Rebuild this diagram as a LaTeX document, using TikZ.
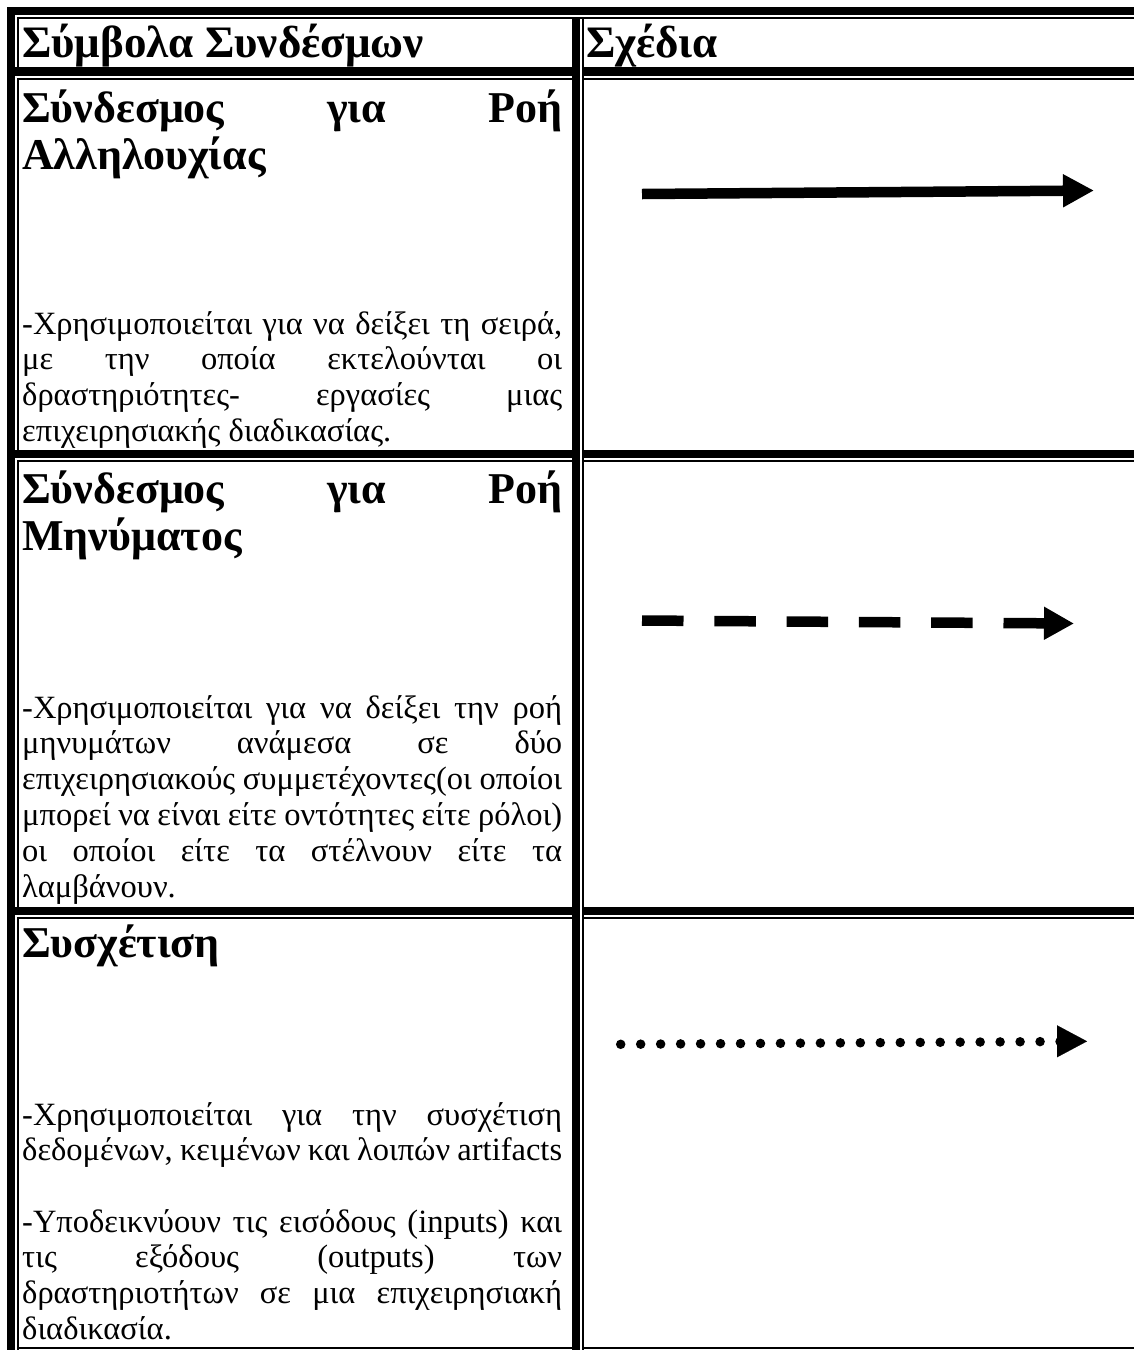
\documentclass[tikz,border=0pt]{standalone}
\usepackage{fontspec}
\setmainfont{Liberation Serif}
\usetikzlibrary{arrows.meta}
\tolerance=10000
\hyphenpenalty=10000
\exhyphenpenalty=10000

\begin{document}
\begin{tikzpicture}[x=1pt,y=-1pt,
  rule/.style={fill=black},
  headtext/.style={anchor=base west, inner sep=0pt, font=\bfseries\fontsize{45}{48}\selectfont},
  cellhead/.style={anchor=base west, inner sep=0pt, text width=540pt, align=justify,
    font=\bfseries\fontsize{44}{47}\selectfont},
  celltext/.style={anchor=base west, inner sep=0pt, text width=540pt, align=justify,
    font=\fontsize{32.5}{35.9}\selectfont},
  solidarrow/.style={line width=10.5pt, -{Triangle[length=31pt,width=31pt]}},
  dasharrow/.style={line width=10.5pt, dash pattern=on 41.5pt off 30.8pt,
    -{Triangle[length=30pt,width=31pt]}},
  dotline/.style={line width=9.5pt, line cap=round, dash pattern=on 0.01pt off 19.96pt},
  dottip/.style={line width=0.1pt, -{Triangle[length=30pt,width=32pt]}}
]
\useasboundingbox (0,0) rectangle (1134,1350);
\fill[white] (0,0) rectangle (1134,1350);

% outer frame: thick bars on top and left, thin lines inside
\fill[rule] (7,7) rectangle (15,1350);
\fill[rule] (7,7) rectangle (1134,15);
\fill[rule] (17,17) rectangle (1134,19);

% column divider: thick bar and thin line
\fill[rule] (572,19) rectangle (580,1350);
\fill[rule] (582,19) rectangle (584,1350);

% row dividers: thick band, then thin line below
\foreach \yt/\yb in {67/76, 450/458, 907/915}{
  \fill[rule] (15,\yt) rectangle (572,\yb);
  \fill[rule] (584,\yt) rectangle (1134,\yb);
  \fill[rule] (17,\yb+2) rectangle (572,\yb+4);
  \fill[rule] (584,\yb+2) rectangle (1134,\yb+4);
}
% bottom thin line
\fill[rule] (17,1347) rectangle (572,1349);
\fill[rule] (584,1347) rectangle (1134,1349);

% thin inner lines on the left of each cell
\foreach \yt/\yb in {17/67, 78/450, 460/907, 917/1350}{
  \fill[rule] (17,\yt) rectangle (19,\yb);
}

% header row
\node[headtext] (h1) at (22,57) {Σύμβολα Συνδέσμων};
\node[headtext] (h2) at (586,57) {Σχέδια};

% row 1
\node[cellhead] (r1h) at (22,122) {Σύνδεσμος για Ροή\linebreak Αλληλουχίας};
\node[celltext] (r1t) at (22,334) {-Χρησιμοποιείται για να δείξει τη σειρά,\linebreak
  με την οποία εκτελούνται οι\linebreak
  δραστηριότητες- εργασίες μιας\linebreak
  επιχειρησιακής διαδικασίας.};

% row 2
\node[cellhead] (r2h) at (22,503) {Σύνδεσμος για Ροή\linebreak Μηνύματος};
\node[celltext] (r2t) at (22,718) {-Χρησιμοποιείται για να δείξει την ροή\linebreak
  μηνυμάτων ανάμεσα σε δύο\linebreak
  επιχειρησιακούς συμμετέχοντες(οι οποίοι\linebreak
  μπορεί να είναι είτε οντότητες είτε ρόλοι)\linebreak
  οι οποίοι είτε τα στέλνουν είτε τα\linebreak
  λαμβάνουν.};

% row 3
\node[cellhead] (r3h) at (22,957) {Συσχέτιση};
\node[celltext] (r3a) at (22,1125) {-Χρησιμοποιείται για την συσχέτιση\linebreak
  δεδομένων, κειμένων και λοιπών artifacts};
\node[celltext] (r3b) at (22,1232) {-Υποδεικνύουν τις εισόδους (inputs) και\linebreak
  τις εξόδους (outputs) των\linebreak
  δραστηριοτήτων σε μια επιχειρησιακή\linebreak
  διαδικασία.};

% sample connectors
\coordinate (a1s) at (642,194);
\coordinate (a1e) at (1094,190.5);
\draw[solidarrow] (a1s) -- (a1e);

\coordinate (a2s) at (642,620.5);
\coordinate (a2e) at (1074,623.5);
\draw[dasharrow] (a2s) -- (a2e);

\coordinate (a3s) at (620.7,1044.3);
\coordinate (a3m) at (1061,1041.5);
\coordinate (a3b) at (1056,1041.3);
\coordinate (a3t) at (1087,1041.3);
\draw[dotline] (a3s) -- (a3m);
\draw[dottip] (a3b) -- (a3t);
\end{tikzpicture}
\end{document}
